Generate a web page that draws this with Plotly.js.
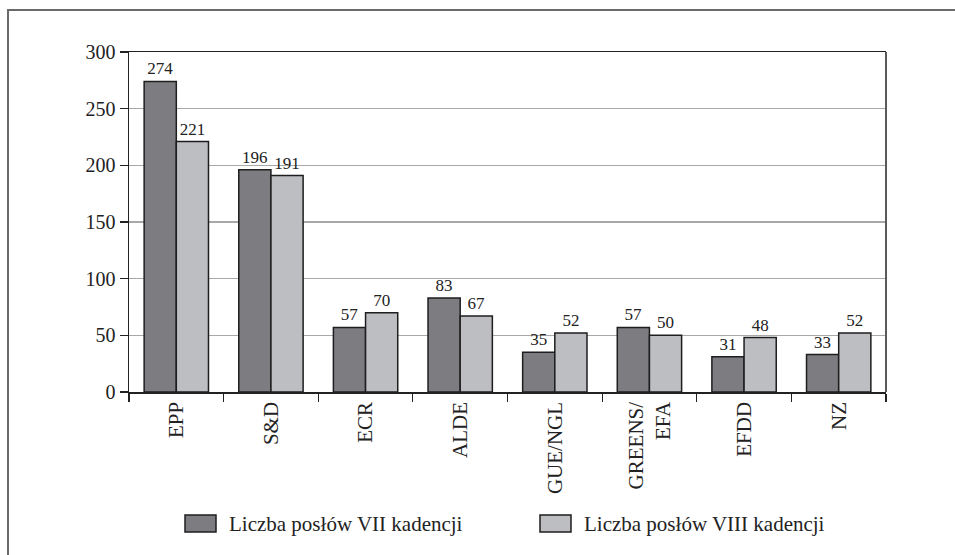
<!DOCTYPE html>
<html>
<head>
<meta charset="utf-8">
<script src="https://cdn.plot.ly/plotly-3.0.1.min.js"></script>
<style>
html,body{margin:0;padding:0;background:#fff;}
#chart{width:955px;height:555px;}
</style>
</head>
<body>
<div id="chart"></div>
<script>
const categories = ["EPP", "S&D", "ECR", "ALDE", "GUE/NGL", "GREENS/<br>EFA", "EFDD", "NZ"];
const seriesNames = ["Liczba posłów VII kadencji", "Liczba posłów VIII kadencji"];
const valuesVII = [274, 196, 57, 83, 35, 57, 31, 33];
const valuesVIII = [221, 191, 70, 67, 52, 50, 48, 52];
const yTicks = [0, 50, 100, 150, 200, 250, 300];

const colors = ["#7d7d81", "#bdbec2"];
const FONT = "Liberation Serif";

const W = 955, H = 555;
const M = {l: 129, r: 69, t: 52, b: 163};
const pw = W - M.l - M.r, ph = H - M.t - M.b;
const px = x => (x - M.l) / pw;
const py = y => (H - M.b - y) / ph;

function barTrace(name, vals, color) {
  return {
    type: "bar",
    name: name,
    x: categories,
    y: vals,
    text: vals.map(String),
    textposition: "outside",
    cliponaxis: false,
    constraintext: "none",
    textfont: {family: FONT, size: 17, color: "#222"},
    marker: {color: color, line: {color: "#1e1e1e", width: 1.5}},
    hoverinfo: "skip"
  };
}

const data = [
  barTrace(seriesNames[0], valuesVII, colors[0]),
  barTrace(seriesNames[1], valuesVIII, colors[1])
];

const shapes = [
  {type: "rect", xref: "paper", yref: "paper", x0: px(8), x1: px(970), y0: py(570), y1: py(10),
   line: {color: "#6a6a6a", width: 2}, fillcolor: "rgba(0,0,0,0)", layer: "below"},
  {type: "line", xref: "paper", yref: "paper", x0: 1, x1: 1, y0: 0, y1: 1,
   line: {color: "#5a5a5a", width: 2}}
];

const legendBoxes = [{x: 185, tx: 227}, {x: 540, tx: 582}];
const annotations = [];
legendBoxes.forEach((b, i) => {
  shapes.push({type: "rect", xref: "paper", yref: "paper",
    x0: px(b.x), x1: px(b.x + 31), y0: py(532), y1: py(515),
    fillcolor: colors[i], line: {color: "#1e1e1e", width: 1.5}});
  annotations.push({xref: "paper", yref: "paper", x: px(b.tx), y: py(523.5),
    xanchor: "left", yanchor: "middle", showarrow: false, text: seriesNames[i],
    font: {family: FONT, size: 21, color: "#222"}});
});

const layout = {
  width: W, height: H,
  margin: M,
  paper_bgcolor: "#fff", plot_bgcolor: "#fff",
  showlegend: false,
  barmode: "group",
  bargap: 0.32,
  bargroupgap: 0,
  font: {family: FONT, color: "#222"},
  xaxis: {
    type: "category",
    tickangle: -90,
    tickfont: {family: FONT, size: 21, color: "#222"},
    ticks: "outside", ticklen: 8, tickwidth: 1.2, tickcolor: "#222",
    tickson: "boundaries",
    showline: true, linecolor: "#222", linewidth: 1.5, mirror: true,
    showgrid: false, zeroline: false,
    automargin: false
  },
  yaxis: {
    range: [0, 300],
    tickvals: yTicks,
    tickfont: {family: FONT, size: 20, color: "#222"},
    ticks: "outside", ticklen: 8, tickwidth: 1.2, tickcolor: "#222",
    showline: true, linecolor: "#222", linewidth: 1.5,
    showgrid: true, gridcolor: "#a8a8a8", gridwidth: 1.2,
    zeroline: false,
    automargin: false
  },
  shapes: shapes,
  annotations: annotations
};

Plotly.newPlot("chart", data, layout, {displayModeBar: false, staticPlot: true});
</script>
</body>
</html>
